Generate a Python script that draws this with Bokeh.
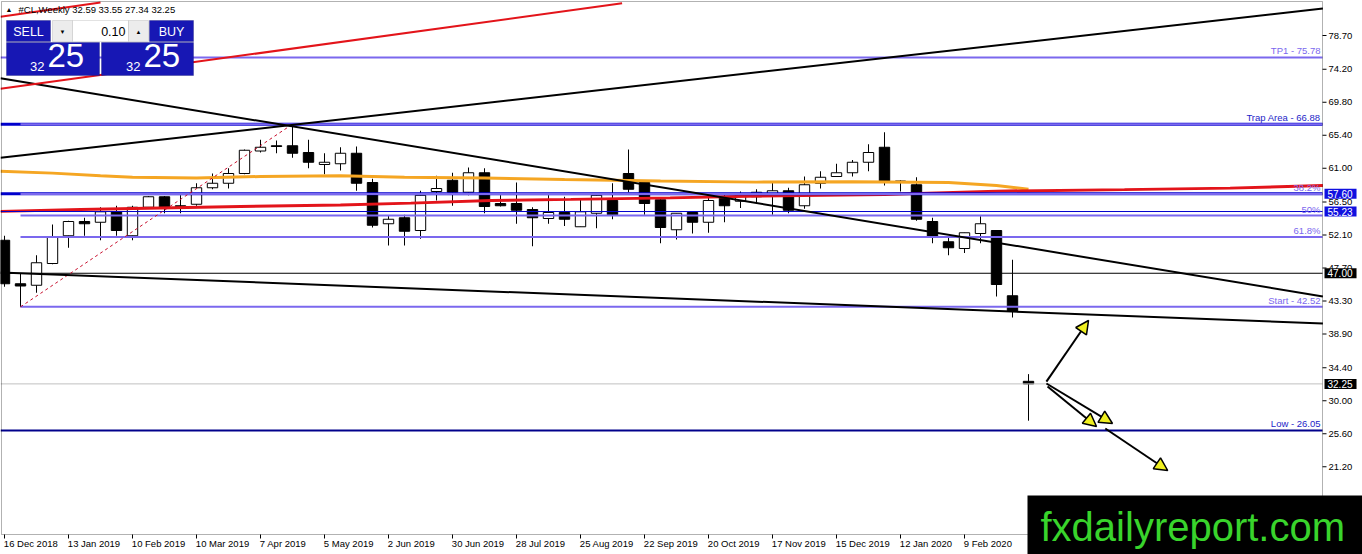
from bokeh.plotting import figure
from bokeh.models import (Range1d, Label, BoxAnnotation, Arrow, NormalHead,
                          ColumnDataSource)
from bokeh.embed import file_html
from bokeh.resources import INLINE

# #CL weekly candles, bar 0 = week of 16 Dec 2018
opens = [51.4, 45.6, 45.4, 48.3, 52.0, 53.9, 53.8, 55.2, 52.0, 55.8,
         57.2, 56.0, 56.2, 58.4, 59.0, 60.3, 63.3, 64.0, 64.0, 63.1,
         61.5, 61.6, 63.0, 59.1, 53.6, 54.4, 52.7, 57.9, 59.4, 57.8,
         60.4, 56.3, 56.3, 55.5, 54.3, 55.1, 53.2, 55.0, 56.7, 60.3,
         59.1, 56.8, 52.8, 55.1, 53.8, 57.1, 56.6, 57.2, 57.5, 58.0,
         56.0, 59.0, 59.9, 60.4, 61.8, 63.8, 59.3, 58.8, 53.9, 51.2,
         50.3, 52.3, 52.7, 44.0, 32.59]
highs = [52.0, 47.0, 49.4, 53.5, 54.0, 54.4, 55.8, 56.0, 56.0, 57.3,
         57.3, 57.4, 59.0, 60.3, 61.0, 63.5, 64.8, 64.7, 66.6, 64.8,
         63.0, 63.8, 63.9, 59.6, 54.7, 54.8, 58.0, 60.0, 60.4, 61.1,
         61.0, 57.4, 59.1, 55.8, 57.4, 57.2, 57.0, 57.5, 59.0, 63.5,
         59.4, 57.1, 55.0, 55.2, 57.3, 57.6, 57.9, 58.2, 59.1, 58.4,
         59.9, 60.6, 61.6, 62.1, 64.2, 65.8, 59.4, 59.8, 54.4, 51.8,
         52.4, 54.6, 52.7, 48.8, 33.55]
lows = [45.2, 42.5, 44.4, 48.2, 50.4, 52.0, 51.4, 52.0, 51.4, 55.7,
        55.0, 55.0, 56.0, 58.2, 58.3, 60.2, 63.1, 63.0, 62.4, 61.0,
        60.2, 60.7, 58.0, 53.1, 50.7, 50.7, 51.6, 56.7, 56.0, 57.4,
        55.0, 55.9, 53.6, 50.6, 53.6, 53.3, 53.2, 53.0, 54.2, 57.8,
        54.8, 51.0, 51.5, 52.3, 52.4, 53.8, 55.7, 56.4, 54.8, 55.0,
        55.6, 58.3, 59.9, 59.9, 60.6, 58.7, 57.9, 54.0, 51.0, 49.4,
        49.7, 51.0, 43.9, 41.1, 27.34]
closes = [45.6, 45.3, 48.4, 51.8, 53.9, 53.6, 55.2, 52.7, 55.8, 57.2,
          55.8, 55.9, 58.4, 59.0, 60.3, 63.4, 63.8, 63.9, 63.0, 61.8,
          61.8, 63.0, 59.0, 53.4, 54.2, 52.6, 57.4, 58.3, 57.8, 60.4,
          55.9, 56.0, 55.4, 54.4, 55.1, 54.2, 55.2, 57.4, 54.8, 58.2,
          56.3, 53.1, 55.0, 53.8, 56.7, 56.0, 57.5, 57.8, 58.0, 55.4,
          58.8, 59.8, 60.4, 61.8, 63.1, 59.2, 59.1, 54.2, 51.8, 50.4,
          52.4, 53.6, 45.5, 41.9, 32.25]

date_labels = ["16 Dec 2018", "13 Jan 2019", "10 Feb 2019", "10 Mar 2019",
               "7 Apr 2019", "5 May 2019", "2 Jun 2019", "30 Jun 2019",
               "28 Jul 2019", "25 Aug 2019", "22 Sep 2019", "20 Oct 2019",
               "17 Nov 2019", "15 Dec 2019", "12 Jan 2020", "9 Feb 2020"]
date_label_bars = [0, 4, 8, 12, 16, 20, 24, 28, 32, 36, 40, 44, 48, 52, 56, 60]
price_ticks = [78.70, 74.20, 69.80, 65.40, 61.00, 56.50, 52.10, 47.70,
               43.30, 38.90, 34.40, 30.00, 25.60, 21.20, 16.80]

# moving averages (bar, price)
ma_orange_bars = [-0.25, 3, 6, 8, 12, 16, 21, 25, 30, 35, 41, 47, 53, 59, 62, 64]
ma_orange = [60.6, 60.35, 60.0, 59.8, 59.7, 59.9, 60.0, 59.8, 59.7, 59.5,
             59.3, 59.15, 59.2, 59.1, 58.7, 58.2]
ma_red_bars = [-0.25, 4.75, 9.75, 14.75, 21, 25.4, 30.4, 35.4, 41.6, 47.25,
               55, 62, 70, 76.6, 82.4]
ma_red = [55.25, 55.5, 55.7, 55.9, 56.1, 56.35, 56.7, 56.85, 57.05, 57.3,
          57.5, 57.95, 58.15, 58.35, 58.7]

# levels
tp1 = 75.78
trap = 66.88
start = 42.52
low = 26.05
fib_pcts = [38.2, 50.0, 61.8]
fib_bar = 1
trap_bar = 18
level_blue = 57.60
level_blue_thin = 55.23
level_47 = 47.00
last_price = 32.25

# trend lines: (bars, prices)
trend_down = ([-0.25, 82.4], [73.0, 43.9])
trend_up = ([-0.25, 82.4], [62.4, 82.3])
trend_low = ([-0.25, 82.4], [47.1, 40.3])
red_chan_1 = ([-0.25, 38.6], [71.6, 83.0])
red_chan_2 = ([-0.25, 6.0], [81.2, 83.1])

# arrows: start bar, start price, end bar, end price
arrow_x0 = [65.12, 65.12, 65.19, 68.8]
arrow_y0 = [32.55, 32.3, 31.9, 26.3]
arrow_x1 = [67.75, 69.25, 68.25, 72.7]
arrow_y1 = [40.7, 26.97, 26.57, 20.7]


# pixel helpers for the decorations (16 px per weekly bar, 7.5 px per dollar)
def bx(px):
    return (px - 4) / 16


def py(px):
    return 78.7 - (px - 35) / 7.5


FONT = "Liberation Sans"
SMALL = "9.5px"
PURPLE = "#7b68ee"
BLUE = "#0000cd"

# the frame fills the whole canvas; MT4-style price/time scales are drawn inside it
p = figure(width=1362, height=554, x_range=Range1d(bx(0), bx(1362)),
           y_range=Range1d(py(554), py(0)), x_axis_type=None, y_axis_type=None,
           output_backend="svg", toolbar_location=None,
           min_border_left=0, min_border_top=0, min_border_right=0,
           min_border_bottom=0)
p.grid.visible = False
p.outline_line_color = None

XR0, XR1 = bx(0), bx(1322)
Y_BOTTOM = py(534)


def lab(x, y, text, color="black", size=SMALL, align="left",
        baseline="middle", **kw):
    p.add_layout(Label(x=x, y=y, text=text, text_color=color, text_font=FONT,
                       text_font_size=size, text_align=align,
                       text_baseline=baseline, **kw))


# chart frame, price scale and time scale
p.add_layout(BoxAnnotation(left=bx(1), right=XR1, top=py(1), bottom=Y_BOTTOM,
                           fill_color=None, line_color="black", line_width=1))
p.segment(x0=[XR1] * len(price_ticks), y0=price_ticks,
          x1=[bx(1326)] * len(price_ticks), y1=price_ticks, line_color="black")
for t in price_ticks:
    lab(bx(1328), t, f"{t:.2f}")
p.segment(x0=date_label_bars, y0=[Y_BOTTOM] * len(date_label_bars),
          x1=date_label_bars, y1=[py(538)] * len(date_label_bars), line_color="black")
for b, s in zip(date_label_bars, date_labels):
    lab(b - 0.04, py(543), s)

# candles
bars = list(range(len(opens)))
up = [i for i in bars if closes[i] >= opens[i]]
dn = [i for i in bars if closes[i] < opens[i]]
src_up = ColumnDataSource(dict(x=up, o=[opens[i] for i in up], c=[closes[i] for i in up],
                               h=[highs[i] for i in up], l=[lows[i] for i in up]))
src_dn = ColumnDataSource(dict(x=dn, o=[opens[i] for i in dn], c=[closes[i] for i in dn],
                               h=[highs[i] for i in dn], l=[lows[i] for i in dn]))
for src, fill in ((src_up, "white"), (src_dn, "black")):
    p.segment(x0="x", y0="h", x1="x", y1="l", source=src, line_color="black", line_width=1)
    p.vbar(x="x", bottom="o", top="c", width=0.65, source=src,
           fill_color=fill, line_color="black", line_width=1)

# moving averages
p.line(ma_orange_bars, ma_orange, line_color="#f5a623", line_width=3)
p.line(ma_red_bars, ma_red, line_color="#e3141a", line_width=3)

# horizontal levels
p.line([XR0, XR1], [tp1, tp1], line_color=PURPLE, line_width=2)
p.line([XR0, XR1], [trap, trap], line_color=BLUE, line_width=3)
p.line([XR0, XR1], [level_blue, level_blue], line_color=BLUE, line_width=3)
p.line([XR0, XR1], [level_blue_thin, level_blue_thin], line_color=BLUE, line_width=1)
p.line([XR0, XR1], [level_47, level_47], line_color="black", line_width=1)
p.line([XR0, XR1], [last_price, last_price], line_color="#c0c0c0", line_width=1)
p.line([XR0, XR1], [low, low], line_color="#00008b", line_width=2)

# fibonacci from start to trap area
fib_prices = [trap - f / 100 * (trap - start) for f in fib_pcts]
for lv in [trap, start] + fib_prices:
    p.line([fib_bar, XR1], [lv, lv], line_color=PURPLE, line_width=2)
p.line([fib_bar, trap_bar], [start, trap], line_color="#c8102e", line_width=1, line_dash="3 3")

# trend lines
for tl in (trend_down, trend_up, trend_low):
    p.line(tl[0], tl[1], line_color="black", line_width=2)
for tl in (red_chan_1, red_chan_2):
    p.line(tl[0], tl[1], line_color="#e3141a", line_width=2)

for x0, y0, x1, y1 in zip(arrow_x0, arrow_y0, arrow_x1, arrow_y1):
    p.add_layout(Arrow(x_start=x0, y_start=y0, x_end=x1, y_end=y1,
                       line_color="black", line_width=2,
                       end=NormalHead(size=13, fill_color="#f0f020",
                                      line_color="black", line_width=1.5)))

# level captions
right = bx(1320)
lab(right, tp1, "TP1 - 75.78", PURPLE, align="right", baseline="bottom", y_offset=1)
lab(right, trap, "Trap Area - 66.88", "#1e1ec8", align="right", baseline="bottom", y_offset=1)
lab(right, start, "Start - 42.52", PURPLE, align="right", baseline="bottom", y_offset=1)
lab(right, low, "Low - 26.05", "#1e1ec8", align="right", baseline="bottom", y_offset=1)
for f, lv in zip(fib_pcts, fib_prices):
    txt = "50%" if f == 50.0 else f"{f}%"
    lab(right, lv, txt, PURPLE, align="right", baseline="bottom", y_offset=1)

# price tags on the scale
for lv, bg in ((level_blue, "#1010e0"), (level_blue_thin, "#1010e0"),
               (level_47, "black"), (last_price, "black")):
    lab(bx(1324), lv, f"{lv:.2f}", "white", size="10px", background_fill_color=bg,
        padding=dict(left=3, right=4, top=1, bottom=1))

# header
lab(bx(5), py(9), "\u25b2", "black", size="7px")
lab(bx(18), py(9), "#CL,Weekly  32.59 33.55 27.34 32.25", "black")

# one-click trading panel
PANEL = "#1717b4"
for l, r, t, b, c in ((6, 50, 20, 41, PANEL), (149, 193, 20, 41, PANEL),
                      (6, 99, 42, 75, PANEL), (101, 193, 42, 75, PANEL),
                      (52, 72, 20, 41, "#ececec"), (72, 128, 20, 41, "white"),
                      (128, 148, 20, 41, "#ececec")):
    p.add_layout(BoxAnnotation(left=bx(l), right=bx(r), top=py(t), bottom=py(b),
                               fill_color=c, fill_alpha=1, line_color="#0a0a6a"
                               if c == PANEL else "#a0a0a0", line_width=1))
lab(bx(28), py(31), "SELL", "white", size="12.5px", align="center")
lab(bx(171), py(31), "BUY", "white", size="12.5px", align="center")
lab(bx(125), py(31), "0.10", "black", size="12.5px", align="right")
lab(bx(62), py(31), "\u25bc", "black", size="6px", align="center")
lab(bx(138), py(31), "\u25b2", "black", size="6px", align="center")
lab(bx(44), py(61), "32", "white", size="13px", align="right", baseline="top")
lab(bx(47), py(43), "25", "white", size="33px", baseline="top")
lab(bx(140), py(61), "32", "white", size="13px", align="right", baseline="top")
lab(bx(143), py(43), "25", "white", size="33px", baseline="top")

# watermark
p.add_layout(BoxAnnotation(left=bx(1027), right=bx(1362), top=py(495), bottom=py(554),
                           fill_color="black", fill_alpha=1, line_color=None))
lab(bx(1040), py(504), "fxdailyreport.com", "#39d42c", size="40px", baseline="top")

open("out.html", "w").write(file_html(p, INLINE))
